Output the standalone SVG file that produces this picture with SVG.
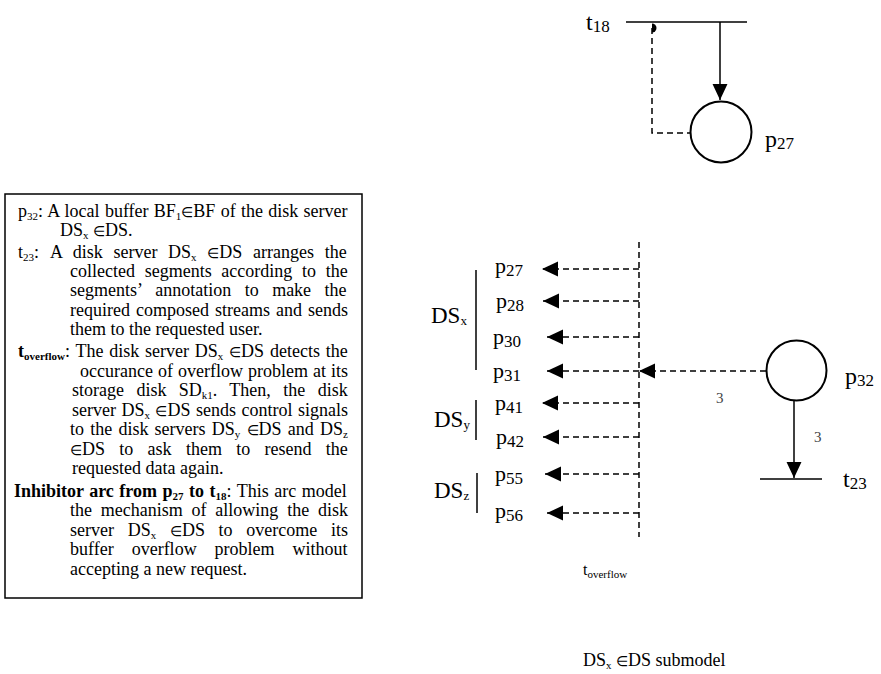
<svg xmlns="http://www.w3.org/2000/svg" width="881" height="674" viewBox="0 0 881 674">
<style>
text{font-family:"Liberation Serif","Times New Roman",serif;fill:#000}
.bx{font-size:18px}
.s{font-size:11px}
.el{font-size:14px}
.b{font-weight:bold}
.lbl{font-size:22px}
.big{font-size:24px}
.sub{font-size:17px}
.ds{font-size:23px}
.dss{font-size:13px}
.sol{stroke:#000;stroke-width:1.5;fill:none}
.dash{stroke:#000;stroke-width:1.5;fill:none;stroke-dasharray:6 4}
.place{stroke:#000;stroke-width:2;fill:#fff}
.three{font-size:15px;fill:#444}
</style>
<defs>
<marker id="ah" markerUnits="userSpaceOnUse" markerWidth="16" markerHeight="16" viewBox="0 0 15 14" refX="15" refY="7" orient="auto">
<path d="M0,0 L15,7 L0,14 Z" fill="#000" stroke="none"/>
</marker>
</defs>
<rect x="5" y="194" width="357" height="404" fill="#fff" stroke="#000" stroke-width="1.5"/>
<g id="legend" class="bx">
<text x="18" y="217" word-spacing="0.8">p<tspan class="s" dy="3">32</tspan><tspan dy="-3">: A local buffer BF</tspan><tspan class="s" dy="3">1</tspan><tspan class="el" dy="-3">∈</tspan><tspan>BF of the disk server</tspan></text>
<text x="60" y="236">DS<tspan class="s" dy="3">x</tspan><tspan dy="-3"> </tspan><tspan class="el">∈</tspan><tspan>DS.</tspan></text>
<text x="18" y="258">t<tspan class="s" dy="3">23</tspan><tspan dy="-3">:</tspan></text>
<text x="50" y="258" word-spacing="6.2">A disk server DS<tspan class="s" dy="3">x</tspan><tspan dy="-3"> </tspan><tspan class="el">∈</tspan><tspan>DS arranges the</tspan></text>
<text x="70" y="277" word-spacing="5.2">collected segments according to the</text>
<text x="70" y="296" word-spacing="9">segments’ annotation to make the</text>
<text x="70" y="316" word-spacing="1.5">required composed streams and sends</text>
<text x="70" y="335">them to the requested user.</text>
<text x="18" y="357" word-spacing="1.3"><tspan class="b">t</tspan><tspan class="s b" dy="3">overflow</tspan><tspan dy="-3">: The disk server DS</tspan><tspan class="s" dy="3">x</tspan><tspan dy="-3"> </tspan><tspan class="el">∈</tspan><tspan>DS detects the</tspan></text>
<text x="80" y="377" word-spacing="0.5">occurance of overflow problem at its</text>
<text x="72" y="396" word-spacing="7.9">storage disk SD<tspan class="s" dy="3">k1</tspan><tspan dy="-3">. Then, the disk</tspan></text>
<text x="72" y="416" word-spacing="1">server DS<tspan class="s" dy="3">x</tspan><tspan dy="-3"> </tspan><tspan class="el">∈</tspan><tspan>DS sends control signals</tspan></text>
<text x="70" y="435" word-spacing="1.7">to the disk servers DS<tspan class="s" dy="3">y</tspan><tspan dy="-3"> </tspan><tspan class="el">∈</tspan><tspan>DS and DS</tspan><tspan class="s" dy="3">z</tspan></text>
<text x="70" y="455" word-spacing="9.8"><tspan class="el">∈</tspan><tspan>DS to ask them to resend the</tspan></text>
<text x="72" y="474">requested data again.</text>
<text x="14" y="497" word-spacing="1"><tspan class="b">Inhibitor arc from p</tspan><tspan class="s b" dy="3">27</tspan><tspan class="b" dy="-3"> to t</tspan><tspan class="s b" dy="3">18</tspan><tspan dy="-3">: This arc model</tspan></text>
<text x="70" y="516" word-spacing="4.3">the mechanism of allowing the disk</text>
<text x="70" y="536" word-spacing="9.2">server DS<tspan class="s" dy="3">x</tspan><tspan dy="-3"> </tspan><tspan class="el">∈</tspan><tspan>DS to overcome its</tspan></text>
<text x="70" y="555" word-spacing="13.5">buffer overflow problem without</text>
<text x="70" y="575">accepting a new request.</text>
</g>
<g id="connectors">
<path class="dash" d="M652,28 V133 H690"/>
<path d="M652,23.5 A4.5,4.5 0 0 1 652,32.5 Z" fill="#000"/>
<line class="sol" x1="720" y1="22" x2="720" y2="100" marker-end="url(#ah)"/>
<line class="dash" x1="639" y1="242" x2="639" y2="537"/>
<line class="dash" x1="639" y1="269" x2="542" y2="269" marker-end="url(#ah)"/>
<line class="dash" x1="639" y1="301" x2="543" y2="301" marker-end="url(#ah)"/>
<line class="dash" x1="639" y1="337" x2="547" y2="337" marker-end="url(#ah)"/>
<line class="dash" x1="639" y1="371" x2="547" y2="371" marker-end="url(#ah)"/>
<line class="dash" x1="639" y1="403" x2="542" y2="403" marker-end="url(#ah)"/>
<line class="dash" x1="639" y1="437" x2="543" y2="437" marker-end="url(#ah)"/>
<line class="dash" x1="639" y1="474" x2="545" y2="474" marker-end="url(#ah)"/>
<line class="dash" x1="639" y1="513" x2="547" y2="513" marker-end="url(#ah)"/>
<line class="dash" x1="766" y1="371" x2="639" y2="371" marker-end="url(#ah)"/>
<text class="three" x="716" y="403">3</text>
<line class="sol" x1="794" y1="401" x2="794" y2="478" marker-end="url(#ah)"/>
<text class="three" x="814" y="442">3</text>
</g>
<g id="t18">
<line class="sol" x1="626" y1="22" x2="747" y2="22"/>
<text class="big" x="586" y="30">t<tspan class="sub" dy="2">18</tspan></text>
</g>
<g id="p27top">
<circle class="place" cx="721" cy="132" r="30.5"/>
<text class="big" x="765" y="147">p<tspan class="sub" dy="2">27</tspan></text>
</g>
<g id="p32">
<circle class="place" cx="796.5" cy="370.5" r="30"/>
<text class="big" x="845" y="384">p<tspan class="sub" dy="2">32</tspan></text>
</g>
<g id="t23">
<line class="sol" x1="760" y1="479" x2="822" y2="479"/>
<text class="big" x="843" y="487">t<tspan class="sub" dy="2">23</tspan></text>
</g>
<g id="toverflow">
<text x="583" y="575" style="font-size:16px">t<tspan dy="3" style="font-size:11px">overflow</tspan></text>
</g>
<g id="places-list" class="lbl">
<text x="495" y="273">p<tspan class="sub" dy="3">27</tspan></text>
<text x="496" y="308">p<tspan class="sub" dy="3">28</tspan></text>
<text x="493" y="344">p<tspan class="sub" dy="3">30</tspan></text>
<text x="493" y="378">p<tspan class="sub" dy="3">31</tspan></text>
<text x="495" y="410">p<tspan class="sub" dy="3">41</tspan></text>
<text x="496" y="444">p<tspan class="sub" dy="3">42</tspan></text>
<text x="495" y="481">p<tspan class="sub" dy="3">55</tspan></text>
<text x="495" y="518">p<tspan class="sub" dy="3">56</tspan></text>
</g>
<g id="DSx">
<line class="sol" x1="476" y1="270" x2="476" y2="370"/>
<text class="ds" x="431" y="323">DS<tspan class="dss" dy="2">x</tspan></text>
</g>
<g id="DSy">
<line class="sol" x1="476" y1="400" x2="476" y2="440"/>
<text class="ds" x="434" y="427">DS<tspan class="dss" dy="2">y</tspan></text>
</g>
<g id="DSz">
<line class="sol" x1="477" y1="473" x2="477" y2="513"/>
<text class="ds" x="434" y="498">DS<tspan class="dss" dy="2">z</tspan></text>
</g>
<g id="caption">
<text x="583" y="666" style="font-size:18px">DS<tspan dy="3" style="font-size:11px">x</tspan><tspan dy="-3"> </tspan><tspan style="font-size:14px">∈</tspan><tspan>DS submodel</tspan></text>
</g>
</svg>
